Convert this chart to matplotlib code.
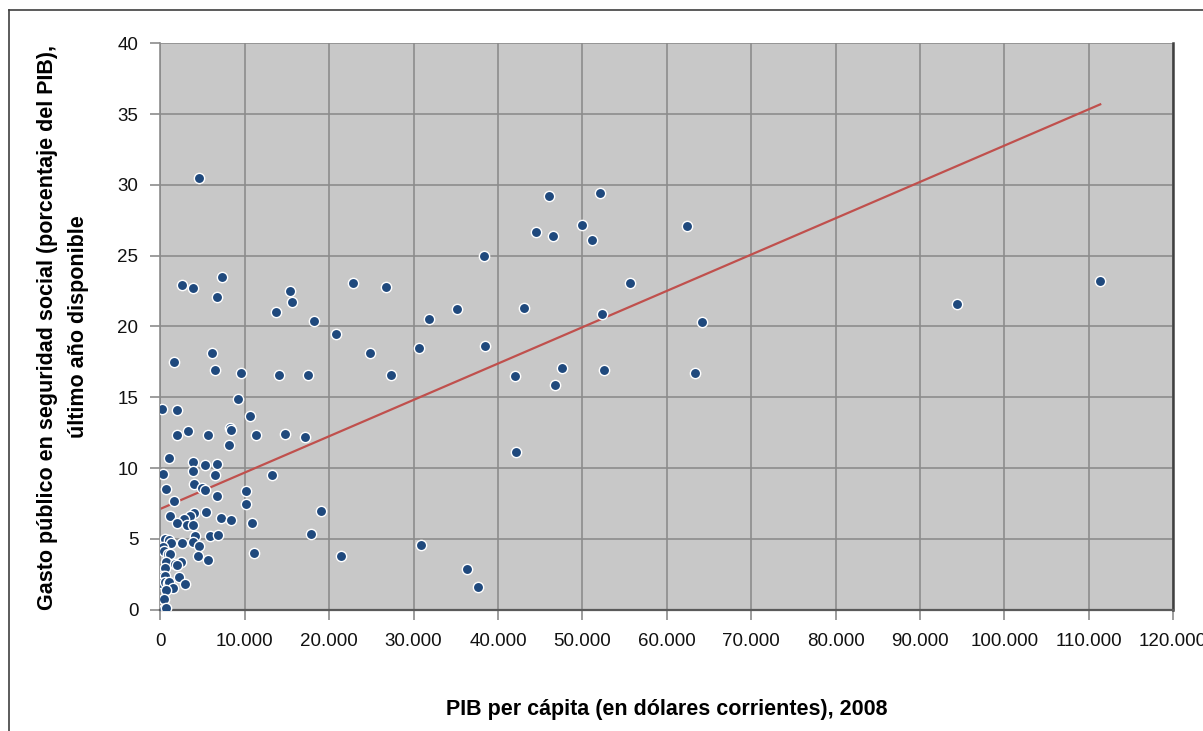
import numpy as np
import matplotlib
matplotlib.use('Agg')
import matplotlib.pyplot as plt
from matplotlib.ticker import FuncFormatter, MultipleLocator
from matplotlib.lines import Line2D

plt.rcParams['font.family'] = ['Liberation Sans', 'DejaVu Sans']

# PIB per capita (USD corrientes, 2008) and gasto publico en seguridad social (% PIB)
pib = [46000, 52130, 44540, 46520, 49960, 51100, 62340, 38340, 55700, 22840,
       26750, 18170, 31770, 35170, 43120, 52370, 64120, 20780, 24850, 30580,
       38410, 17500, 27260, 42020, 47550, 46760, 52610, 63290, 17180, 42140,
       19080, 17850, 21410, 30870, 36280, 37630, 94450, 111370,
       4570, 2550, 3820, 7260, 6740, 15330, 15600, 13740, 1560, 6150,
       6500, 9590, 14090, 9230, 180, 1920, 10620, 8220, 8330, 1920,
       3300, 5630, 11330, 14800, 8130, 1010, 3820, 5320, 6740, 260,
       3820, 6500, 13260, 690, 3970, 4920, 5240, 10110, 6740, 10180,
       1600, 1090, 4010, 3530, 2790, 5430, 7180, 8400, 10890, 1990,
       3140, 3890,
       4130, 5870, 6820, 570, 970, 1250, 2510, 3820, 4570, 260,
       380, 890, 1160, 4410, 5600, 2430, 650, 1760, 1990, 500,
       260, 570, 2160, 100, 500, 890, 1040, 1450, 2910, 690,
       380, 380, 650, 11130]
gasto = [29.2, 29.4, 26.7, 26.4, 27.2, 26.1, 27.1, 25.0, 23.05, 23.1,
         22.8, 20.4, 20.5, 21.2, 21.3, 20.9, 20.3, 19.5, 18.1, 18.5,
         18.6, 16.6, 16.55, 16.5, 17.1, 15.9, 16.9, 16.7, 12.2, 11.1,
         6.95, 5.35, 3.8, 4.55, 2.9, 1.6, 21.6, 23.2,
         30.5, 22.9, 22.7, 23.5, 22.1, 22.5, 21.7, 21.0, 17.5, 18.1,
         16.9, 16.7, 16.6, 14.9, 14.2, 14.1, 13.7, 12.85, 12.7, 12.3,
         12.6, 12.3, 12.3, 12.4, 11.6, 10.7, 10.4, 10.25, 10.3, 9.6,
         9.8, 9.5, 9.5, 8.5, 8.9, 8.6, 8.45, 8.4, 8.0, 7.45,
         7.65, 6.6, 6.8, 6.6, 6.4, 6.9, 6.45, 6.3, 6.1, 6.1,
         6.0, 5.95,
         5.2, 5.2, 5.3, 4.97, 4.92, 4.7, 4.7, 4.76, 4.5, 4.45,
         4.15, 3.9, 3.9, 3.8, 3.5, 3.4, 3.35, 3.25, 3.13, 2.97,
         2.4, 2.4, 2.33, 1.9, 1.93, 1.9, 1.98, 1.55, 1.84, 1.37,
         0.76, 0.03, 0.12, 4.0]

# linear trend
trend_intercept = 7.12
trend_slope = 2.565e-4

x = np.array(pib)
y = np.array(gasto)

fig = plt.figure(figsize=(12.03, 7.31), dpi=100)
ax = fig.add_axes([0.1334, 0.166, 0.8417, 0.7748])

ax.set_facecolor('#C8C8C8')
ax.grid(True, color='#8C8C8C', linewidth=1.2)
ax.set_axisbelow(True)

tx = np.array([0, x.max()])
ax.plot(tx, trend_intercept + trend_slope * tx, color='#C0504D', linewidth=1.6, zorder=2)
ax.scatter(x, y, s=55, color='#1F497D', edgecolors='white', linewidths=1.0, zorder=3)

ax.set_xlim(0, 120000)
ax.set_ylim(0, 40)
ax.xaxis.set_major_locator(MultipleLocator(10000))
ax.yaxis.set_major_locator(MultipleLocator(5))
ax.xaxis.set_major_formatter(FuncFormatter(lambda v, p: f'{int(v):,}'.replace(',', '.')))
ax.tick_params(axis='both', direction='out', length=7, width=1.2, color='#8C8C8C',
               labelsize=13.5, labelcolor='#111111')
ax.tick_params(axis='x', pad=10)
ax.tick_params(axis='y', pad=9)

ax.spines['top'].set_visible(False)
ax.spines['left'].set_color('#8C8C8C')
ax.spines['left'].set_linewidth(1.2)
ax.spines['bottom'].set_color('#5A5A5A')
ax.spines['bottom'].set_linewidth(1.6)
ax.spines['right'].set_color('#404040')
ax.spines['right'].set_linewidth(1.8)

fig.text(0.5542, 1 - 709 / 731, 'PIB per cápita (en dólares corrientes), 2008',
         ha='center', va='center', fontsize=15.5, fontweight='bold')
fig.text(63 / 1203, 1 - 327 / 731,
         'Gasto público en seguridad social (porcentaje del PIB),\núltimo año disponible',
         ha='center', va='center', rotation=90, fontsize=15.5, fontweight='bold',
         multialignment='center', linespacing=1.6)

# outer chart border
fig.add_artist(Line2D([9 / 1203, 9 / 1203], [0, 1 - 10 / 731], transform=fig.transFigure,
                      color='#404040', linewidth=1.2))
fig.add_artist(Line2D([9 / 1203, 1], [1 - 10 / 731, 1 - 10 / 731], transform=fig.transFigure,
                      color='#404040', linewidth=1.2))

fig.savefig('out.png', dpi=100)
